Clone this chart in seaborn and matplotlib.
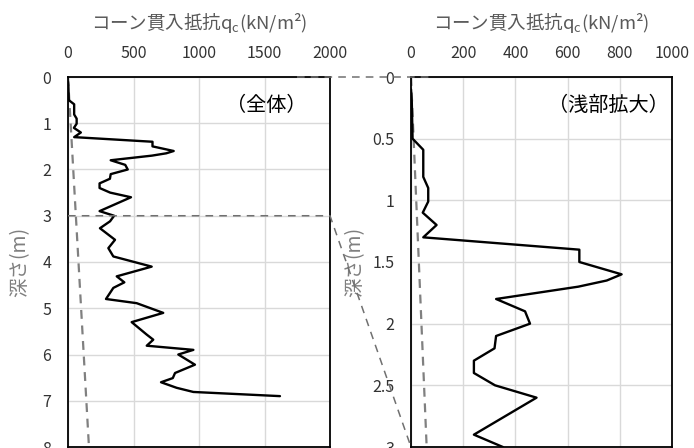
import numpy as np
import pandas as pd
import matplotlib
matplotlib.use("Agg")
import matplotlib.pyplot as plt
from matplotlib.lines import Line2D
import seaborn as sns

###############
# Data
###############
depth_m = [0.10, 0.20, 0.50, 0.59, 0.81, 0.90, 1.01, 1.10, 1.20, 1.30,
           1.40, 1.50, 1.60, 1.65, 1.70, 1.80, 1.90, 2.00, 2.10, 2.20,
           2.30, 2.40, 2.50, 2.60, 2.90, 3.00, 3.12, 3.27, 3.52, 3.70,
           3.88, 4.10, 4.31, 4.44, 4.56, 4.80, 4.89, 5.10, 5.30, 5.57,
           5.68, 5.81, 5.90, 6.00, 6.22, 6.40, 6.51, 6.60, 6.72, 6.81,
           6.90]
qc = [0, 3, 6, 47, 47, 66, 66, 45, 98, 47,
      645, 645, 807, 750, 641, 326, 437, 456, 326, 320,
      241, 241, 322, 481, 241, 352, 321, 244, 359, 308,
      346, 639, 372, 430, 346, 290, 524, 727, 486, 601,
      651, 601, 957, 842, 969, 817, 800, 710, 829, 957,
      1618]

ref_depth = [0, 8]
ref_qc = [0, 160]

left_xticks = [0, 500, 1000, 1500, 2000]
left_yticks = [0, 1, 2, 3, 4, 5, 6, 7, 8]
right_xticks = [0, 200, 400, 600, 800, 1000]
right_yticks = [0, 0.5, 1, 1.5, 2, 2.5, 3]
right_ytick_labels = ["0", "0.5", "1", "1.5", "2", "2.5", "3"]

xlabel = "コーン貫入抵抗q$_\\mathregular{c}$(kN/m²)"
ylabel = "深さ(m)"

profile = pd.DataFrame({"depth": depth_m, "qc": qc})
ref = pd.DataFrame({"depth": ref_depth, "qc": ref_qc})

###############
# Style
###############
sns.set_style("whitegrid")
plt.rcParams['font.family'] = ['Noto Sans CJK JP', 'DejaVu Sans']
plt.rcParams['mathtext.fontset'] = 'custom'
plt.rcParams['mathtext.rm'] = 'Noto Sans CJK JP'

tick_color = '#333333'
label_color = '#595959'
ylab_color = '#7f7f7f'
grid_color = '#d9d9d9'

fig = plt.figure(figsize=(6.94, 4.48), dpi=100)
ax1 = fig.add_axes([68/694, 1/448, 262/694, 370/448])
ax2 = fig.add_axes([411/694, 1/448, 261/694, 370/448])


def drawPanel(ax, xmax, ymax, xticks, yticks, yticklabels, note, ylab_x):
    sns.lineplot(ax=ax, data=ref, x='qc', y='depth', sort=False,
                 estimator=None, color='#808080', linewidth=1.6,
                 dashes=False, linestyle=(0, (4, 3)))
    sns.lineplot(ax=ax, data=profile, x='qc', y='depth', sort=False,
                 estimator=None, color='black', linewidth=1.7)
    ax.set_xlim(0, xmax)
    ax.set_ylim(ymax, 0)
    ax.set_xticks(xticks)
    ax.set_yticks(yticks)
    ax.set_yticklabels(yticklabels)
    ax.xaxis.tick_top()
    ax.xaxis.set_label_position('top')
    ax.tick_params(axis='both', length=0, labelsize=11.5, colors=tick_color)
    ax.tick_params(axis='x', pad=11)
    ax.tick_params(axis='y', pad=12)
    ax.set_xlabel(xlabel, fontsize=13.3, color=label_color, labelpad=11)
    ax.set_ylabel(ylabel, fontsize=14, color=ylab_color)
    ax.yaxis.set_label_coords(ylab_x, 0.5)
    ax.grid(True, color=grid_color, linewidth=1)
    for sp in ax.spines.values():
        sp.set_color('black')
        sp.set_linewidth(1.3)
    ax.text(0.755, 0.924, note, transform=ax.transAxes, ha='center',
            va='center', fontsize=14.5, color='black')


drawPanel(ax1, 2000, 8, left_xticks, left_yticks,
          [str(v) for v in left_yticks], "（全体）", -0.145)
drawPanel(ax2, 1000, 3, right_xticks, right_yticks,
          right_ytick_labels, "（浅部拡大）", -0.176)

# connector lines between the two panels
inv = fig.transFigure.inverted()
top_a = inv.transform(ax1.transData.transform((1750, 0)))
top_b = inv.transform(ax2.transData.transform((80, 0)))
mid_a = inv.transform(ax1.transData.transform((0, 3)))
mid_b = inv.transform(ax1.transData.transform((2000, 3)))
bot_b = inv.transform(ax2.transData.transform((0, 3)))
conn_style = dict(transform=fig.transFigure, color='#707070',
                  linewidth=1.1, linestyle=(0, (5, 4)), zorder=5)
fig.lines.append(Line2D([top_a[0], top_b[0]], [top_a[1], top_b[1]], **conn_style))
fig.lines.append(Line2D([mid_a[0], mid_b[0], bot_b[0]],
                        [mid_a[1], mid_b[1], bot_b[1]], **conn_style))

plt.savefig('out.png', dpi=100)
